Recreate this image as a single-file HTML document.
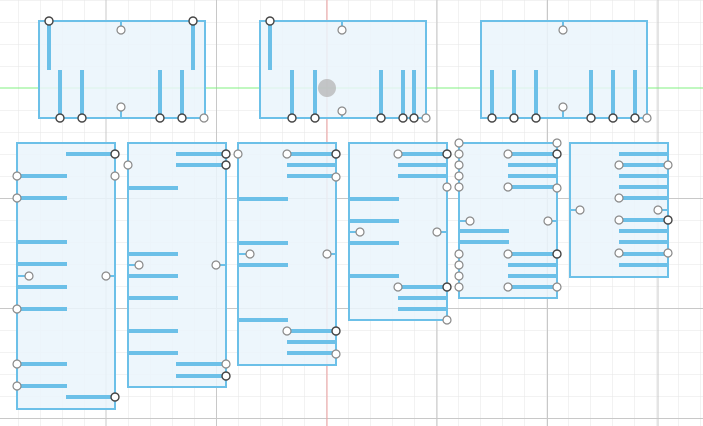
<!DOCTYPE html>
<html><head><meta charset="utf-8"><style>
html,body{margin:0;padding:0;background:#fff;}
svg{display:block;}
</style></head><body>
<svg width="703" height="426" viewBox="0 0 703 426" xmlns="http://www.w3.org/2000/svg">
<defs>
<pattern id="g" x="18" y="0" width="22" height="22" patternUnits="userSpaceOnUse">
<path d="M0 0V22M0 0H22" stroke="#e6e6e6" stroke-width="1" fill="none"/>
</pattern>
</defs>
<rect width="703" height="426" fill="#fff"/>
<rect width="703" height="426" fill="url(#g)"/>
<g stroke="#c8c8c8" stroke-width="1">
<line x1="106" y1="0" x2="106" y2="426"/><line x1="216.5" y1="0" x2="216.5" y2="426"/>
<line x1="437" y1="0" x2="437" y2="426"/><line x1="547.5" y1="0" x2="547.5" y2="426"/><line x1="658" y1="0" x2="658" y2="426"/>
<line x1="0" y1="198.5" x2="703" y2="198.5"/><line x1="0" y1="308.5" x2="703" y2="308.5"/><line x1="0" y1="418.5" x2="703" y2="418.5"/>
</g>
<line x1="327" y1="0" x2="327" y2="426" stroke="#f0a0a0" stroke-width="1"/>
<line x1="0" y1="88" x2="703" y2="88" stroke="#80f080" stroke-width="1"/>

<g fill="#eaf4fb" fill-opacity="0.85" stroke="#6cc0e8" stroke-width="2">
<rect x="39" y="21" width="166" height="97"/>
<rect x="260" y="21" width="166" height="97"/>
<rect x="481" y="21" width="166" height="97"/>
<rect x="17" y="143" width="98" height="266"/>
<rect x="128" y="143" width="98" height="244"/>
<rect x="238" y="143" width="98" height="222"/>
<rect x="349" y="143" width="98" height="177"/>
<rect x="459" y="143" width="98" height="155"/>
<rect x="570" y="143" width="98" height="134"/>
</g>

<g stroke="#6cc0e8" stroke-width="4">
<!-- top box1 -->
<line x1="49" y1="21" x2="49" y2="70"/><line x1="193" y1="21" x2="193" y2="70"/>
<line x1="60" y1="70" x2="60" y2="118"/><line x1="82" y1="70" x2="82" y2="118"/>
<line x1="160" y1="70" x2="160" y2="118"/><line x1="182" y1="70" x2="182" y2="118"/>
<!-- top box2 -->
<line x1="270" y1="21" x2="270" y2="70"/>
<line x1="292" y1="70" x2="292" y2="118"/><line x1="315" y1="70" x2="315" y2="118"/>
<line x1="381" y1="70" x2="381" y2="118"/><line x1="403" y1="70" x2="403" y2="118"/><line x1="414" y1="70" x2="414" y2="118"/>
<!-- top box3 -->
<line x1="492" y1="70" x2="492" y2="118"/><line x1="514" y1="70" x2="514" y2="118"/><line x1="536" y1="70" x2="536" y2="118"/>
<line x1="591" y1="70" x2="591" y2="118"/><line x1="613" y1="70" x2="613" y2="118"/><line x1="635" y1="70" x2="635" y2="118"/>
<!-- B1 -->
<line x1="66" y1="154" x2="115" y2="154"/><line x1="66" y1="397" x2="115" y2="397"/>
<line x1="17" y1="176" x2="67" y2="176"/><line x1="17" y1="198" x2="67" y2="198"/><line x1="17" y1="242" x2="67" y2="242"/>
<line x1="17" y1="264" x2="67" y2="264"/><line x1="17" y1="287" x2="67" y2="287"/><line x1="17" y1="309" x2="67" y2="309"/>
<line x1="17" y1="364" x2="67" y2="364"/><line x1="17" y1="386" x2="67" y2="386"/>
<!-- B2 -->
<line x1="176" y1="154" x2="226" y2="154"/><line x1="176" y1="165" x2="226" y2="165"/>
<line x1="176" y1="364" x2="226" y2="364"/><line x1="176" y1="376" x2="226" y2="376"/>
<line x1="128" y1="188" x2="178" y2="188"/><line x1="128" y1="254" x2="178" y2="254"/><line x1="128" y1="276" x2="178" y2="276"/>
<line x1="128" y1="298" x2="178" y2="298"/><line x1="128" y1="331" x2="178" y2="331"/><line x1="128" y1="353" x2="178" y2="353"/>
<!-- B3 -->
<line x1="287" y1="154" x2="336" y2="154"/><line x1="287" y1="165" x2="336" y2="165"/><line x1="287" y1="176" x2="336" y2="176"/>
<line x1="287" y1="331" x2="336" y2="331"/><line x1="287" y1="342" x2="336" y2="342"/><line x1="287" y1="353" x2="336" y2="353"/>
<line x1="238" y1="199" x2="288" y2="199"/><line x1="238" y1="243" x2="288" y2="243"/><line x1="238" y1="265" x2="288" y2="265"/><line x1="238" y1="320" x2="288" y2="320"/>
<!-- B4 -->
<line x1="398" y1="154" x2="447" y2="154"/><line x1="398" y1="165" x2="447" y2="165"/><line x1="398" y1="176" x2="447" y2="176"/>
<line x1="398" y1="287" x2="447" y2="287"/><line x1="398" y1="298" x2="447" y2="298"/><line x1="398" y1="309" x2="447" y2="309"/>
<line x1="349" y1="199" x2="399" y2="199"/><line x1="349" y1="221" x2="399" y2="221"/><line x1="349" y1="243" x2="399" y2="243"/><line x1="349" y1="276" x2="399" y2="276"/>
<!-- B5 -->
<line x1="508" y1="154" x2="557" y2="154"/><line x1="508" y1="165" x2="557" y2="165"/><line x1="508" y1="176" x2="557" y2="176"/><line x1="508" y1="187" x2="557" y2="187"/>
<line x1="508" y1="254" x2="557" y2="254"/><line x1="508" y1="265" x2="557" y2="265"/><line x1="508" y1="276" x2="557" y2="276"/><line x1="508" y1="287" x2="557" y2="287"/>
<line x1="459" y1="231" x2="509" y2="231"/><line x1="459" y1="242" x2="509" y2="242"/>
<!-- B6 -->
<line x1="619" y1="154" x2="668" y2="154"/><line x1="619" y1="165" x2="668" y2="165"/><line x1="619" y1="176" x2="668" y2="176"/><line x1="619" y1="187" x2="668" y2="187"/>
<line x1="619" y1="198" x2="668" y2="198"/><line x1="619" y1="220" x2="668" y2="220"/><line x1="619" y1="231" x2="668" y2="231"/><line x1="619" y1="242" x2="668" y2="242"/>
<line x1="619" y1="254" x2="668" y2="254"/><line x1="619" y1="265" x2="668" y2="265"/>
</g>

<!-- stubs for side/middle ports -->
<g stroke="#6cc0e8" stroke-width="2">
<line x1="121" y1="21" x2="121" y2="29"/><line x1="121" y1="107" x2="121" y2="118"/>
<line x1="342" y1="21" x2="342" y2="30"/><line x1="342" y1="111" x2="342" y2="118"/>
<line x1="563" y1="21" x2="563" y2="30"/><line x1="563" y1="107" x2="563" y2="118"/>
<line x1="17" y1="276" x2="29" y2="276"/><line x1="106" y1="276" x2="115" y2="276"/>
<line x1="128" y1="265" x2="139" y2="265"/><line x1="216" y1="265" x2="226" y2="265"/>
<line x1="238" y1="254" x2="250" y2="254"/><line x1="327" y1="254" x2="336" y2="254"/>
<line x1="349" y1="232" x2="360" y2="232"/><line x1="437" y1="232" x2="447" y2="232"/>
<line x1="459" y1="221" x2="470" y2="221"/><line x1="548" y1="221" x2="557" y2="221"/>
<line x1="570" y1="210" x2="580" y2="210"/><line x1="658" y1="210" x2="668" y2="210"/>
</g>

<circle cx="327" cy="88" r="9" fill="#b0b0b0" fill-opacity="0.7"/>

<g fill="#fff" stroke="#888" stroke-width="1.2">
<circle cx="121" cy="30" r="4"/><circle cx="121" cy="107" r="4"/><circle cx="204" cy="118" r="4"/>
<circle cx="342" cy="30" r="4"/><circle cx="342" cy="111" r="4"/><circle cx="426" cy="118" r="4"/>
<circle cx="563" cy="30" r="4"/><circle cx="563" cy="107" r="4"/><circle cx="647" cy="118" r="4"/>
<circle cx="115" cy="176" r="4"/><circle cx="17" cy="176" r="4"/><circle cx="17" cy="198" r="4"/><circle cx="17" cy="309" r="4"/>
<circle cx="17" cy="364" r="4"/><circle cx="17" cy="386" r="4"/><circle cx="29" cy="276" r="4"/><circle cx="106" cy="276" r="4"/>
<circle cx="128" cy="165" r="4"/><circle cx="139" cy="265" r="4"/><circle cx="216" cy="265" r="4"/><circle cx="226" cy="364" r="4"/>
<circle cx="238" cy="154" r="4"/><circle cx="250" cy="254" r="4"/><circle cx="327" cy="254" r="4"/><circle cx="336" cy="177" r="4"/><circle cx="336" cy="354" r="4"/>
<circle cx="360" cy="232" r="4"/><circle cx="437" cy="232" r="4"/><circle cx="447" cy="187" r="4"/><circle cx="447" cy="320" r="4"/>
<circle cx="470" cy="221" r="4"/><circle cx="548" cy="221" r="4"/><circle cx="557" cy="143" r="4"/><circle cx="557" cy="188" r="4"/>
<circle cx="580" cy="210" r="4"/><circle cx="658" cy="210" r="4"/><circle cx="668" cy="165" r="4"/><circle cx="668" cy="253" r="4"/><circle cx="619" cy="198" r="4"/>
<circle cx="459" cy="143" r="4"/><circle cx="459" cy="154" r="4"/><circle cx="459" cy="165" r="4"/><circle cx="459" cy="176" r="4"/><circle cx="459" cy="187" r="4"/>
<circle cx="459" cy="254" r="4"/><circle cx="459" cy="265" r="4"/><circle cx="459" cy="276" r="4"/><circle cx="459" cy="287" r="4"/>
<circle cx="619" cy="165" r="4"/><circle cx="619" cy="220" r="4"/><circle cx="619" cy="253" r="4"/>
<circle cx="508" cy="154" r="4"/><circle cx="508" cy="187" r="4"/><circle cx="508" cy="254" r="4"/><circle cx="508" cy="287" r="4"/><circle cx="557" cy="287" r="4"/>
<circle cx="287" cy="154" r="4"/><circle cx="287" cy="331" r="4"/><circle cx="398" cy="154" r="4"/><circle cx="398" cy="287" r="4"/>
</g>
<g fill="#fff" stroke="#444" stroke-width="1.4">
<circle cx="49" cy="21" r="4"/><circle cx="193" cy="21" r="4"/><circle cx="270" cy="21" r="4"/>
<circle cx="60" cy="118" r="4"/><circle cx="82" cy="118" r="4"/><circle cx="160" cy="118" r="4"/><circle cx="182" cy="118" r="4"/>
<circle cx="292" cy="118" r="4"/><circle cx="315" cy="118" r="4"/><circle cx="381" cy="118" r="4"/><circle cx="403" cy="118" r="4"/><circle cx="414" cy="118" r="4"/>
<circle cx="492" cy="118" r="4"/><circle cx="514" cy="118" r="4"/><circle cx="536" cy="118" r="4"/><circle cx="591" cy="118" r="4"/><circle cx="613" cy="118" r="4"/><circle cx="635" cy="118" r="4"/>
<circle cx="115" cy="154" r="4"/><circle cx="115" cy="397" r="4"/>
<circle cx="226" cy="154" r="4"/><circle cx="226" cy="165" r="4"/><circle cx="226" cy="376" r="4"/>
<circle cx="336" cy="154" r="4"/><circle cx="336" cy="331" r="4"/>
<circle cx="447" cy="154" r="4"/><circle cx="447" cy="287" r="4"/>
<circle cx="557" cy="154" r="4"/><circle cx="557" cy="254" r="4"/><circle cx="668" cy="220" r="4"/>
</g>
</svg>
</body></html>
